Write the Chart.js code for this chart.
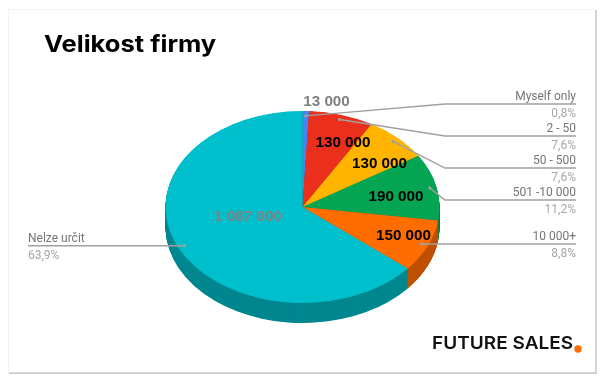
<!DOCTYPE html>
<html><head><meta charset="utf-8">
<style>html,body{margin:0;padding:0;background:#fff}canvas{display:block}</style>
<script src="https://cdn.jsdelivr.net/npm/chart.js@4"></script>
</head><body><canvas id="c" width="600" height="376"></canvas>
<script>
const categories = ['Myself only','2 - 50','50 - 500','501 -10 000','10 000+','Nelze určit'];
const values = [13000,130000,130000,190000,150000,1087000];
const valueLabels = ['13 000','130 000','130 000','190 000','150 000','1 087 000'];
const percentLabels = ['0,8%','7,6%','7,6%','11,2%','8,8%','63,9%'];
const colors = ['#4285F4','#EA2F1C','#FFB400','#05A553','#FF6D00','#00BFCC'];
const sideColors = ['#2F64B8','#AF2315','#BF8700','#047C3E','#BF5000','#00878F'];
const valueColors = ['#808080','#000','#000','#000','#000','#808080'];
const title = 'Velikost firmy';
const brand = 'FUTURE SALES';

// presentation constants
const TILT = 96/137, DEPTH = 20, ANCHOR = 0.95;
const elbowX = [445,445,445,445,null,null];
const elbowY = [104,136,168,200,null,null];
const lineEnd = [576,576,576,576,576,28];
const labelCentre = [[326.5,102],[343,142.5],[379.5,164],[396,197],[403.5,235.5],[248,216.7]];

function anchor(arc){
  const p = arc.getProps(['x','y','startAngle','endAngle','outerRadius'],true);
  const a = (p.startAngle+p.endAngle)/2, r = p.outerRadius*ANCHOR;
  return [p.x+Math.cos(a)*r, p.y+Math.sin(a)*r*TILT];
}
const pie3d = {
  id:'pie3d',
  beforeDraw(chart){
    const c = chart.ctx; c.save();
    c.fillStyle='#fff'; c.fillRect(0,0,600,376);
    c.strokeStyle='#f4f4f4'; c.lineWidth=1; c.strokeRect(8.5,9.5,587.5,363.5);
    c.strokeStyle='#bdbdbd'; c.lineWidth=1.2;
    c.beginPath(); c.moveTo(9,373.2); c.lineTo(596,373.2); c.lineTo(596,10); c.stroke();
    c.restore();
  },
  beforeDatasetsDraw(chart){
    const c = chart.ctx, arcs = chart.getDatasetMeta(0).data, p = arcs[0];
    c.save();
    c.translate(p.x,p.y); c.scale(1,TILT); c.translate(-p.x,-p.y);
    for(let d=DEPTH;d>0;d-=0.5){
      c.save(); c.translate(0,d/TILT);
      arcs.forEach((a,i)=>{
        const o=a.options;
        a.options=Object.assign(Object.create(o),{backgroundColor:sideColors[i]});
        a.draw(c); a.options=o;
      });
      c.restore();
    }
  },
  afterDatasetsDraw(chart){
    const c = chart.ctx, arcs = chart.getDatasetMeta(0).data;
    c.restore();
    c.save();
    arcs.forEach((a,i)=>{
      const [x,y]=anchor(a);
      c.strokeStyle='#a0a0a0'; c.lineWidth=1.4;
      c.beginPath(); c.moveTo(x,y);
      if(elbowX[i]!==null){ c.lineTo(elbowX[i],elbowY[i]); c.lineTo(lineEnd[i],elbowY[i]); }
      else c.lineTo(lineEnd[i],y);
      c.stroke();
      c.fillStyle='#9e9e9e'; c.beginPath(); c.arc(x,y,1.6,0,Math.PI*2); c.fill();
      const ly = elbowY[i]!==null?elbowY[i]:y;
      const right = i<5;
      c.textAlign = right?'right':'left';
      c.textBaseline='alphabetic';
      c.font='12px Roboto';
      c.fillStyle='#757575';
      c.fillText(categories[i], lineEnd[i], ly-4);
      c.fillStyle='#a6a6a6';
      c.fillText(percentLabels[i], lineEnd[i], ly+13);
    });
    c.textAlign='center'; c.textBaseline='middle';
    c.font='bold 15.2px "Liberation Sans"';
    valueLabels.forEach((t,i)=>{
      c.fillStyle=valueColors[i];
      c.fillText(t,labelCentre[i][0],labelCentre[i][1]);
    });
    c.textAlign='left'; c.textBaseline='alphabetic';
    c.save(); c.translate(44,52); c.scale(1.11,1);
    c.fillStyle='#000'; c.font='bold 23px Inter';
    c.fillText(title,0,0); c.restore();
    c.save(); c.translate(432,349); c.scale(1.087,1);
    c.fillStyle='#111'; c.font='600 17.5px Inter';
    c.fillText(brand,0,0); c.restore();
    c.fillStyle='#FF6D00'; c.beginPath(); c.arc(578,349,3.7,0,Math.PI*2); c.fill();
    c.restore();
  }
};
new Chart(document.getElementById('c'),{
  type:'pie',
  data:{labels:categories,datasets:[{data:values,backgroundColor:colors,borderWidth:0}]},
  options:{
    responsive:false,animation:false,
    layout:{padding:{left:165.5,right:160.5,top:70,bottom:32}},
    plugins:{legend:{display:false},tooltip:{enabled:false},title:{display:false}},
    events:[]
  },
  plugins:[pie3d]
});
</script></body></html>
